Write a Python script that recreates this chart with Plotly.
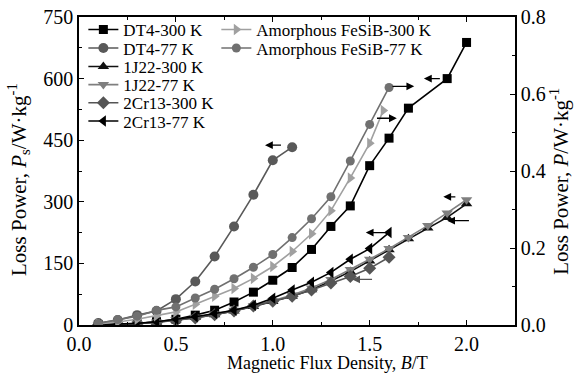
import plotly.graph_objects as go

# ---------------- data ----------------
B_full = [0.1, 0.2, 0.3, 0.4, 0.5, 0.6, 0.7, 0.8, 0.9, 1.0,
          1.1, 1.2, 1.3, 1.4, 1.5, 1.6, 1.7, 1.8, 1.9, 2.0]

B_dt4_300 = [0.1, 0.2, 0.3, 0.4, 0.5, 0.6, 0.7, 0.8, 0.9, 1.0,
             1.1, 1.2, 1.3, 1.4, 1.5, 1.6, 1.7, 1.9, 2.0]
P_dt4_300 = [0.4, 1.5, 3.5, 8, 14, 24, 36, 56, 80, 109,
             140, 184, 240, 290, 388, 455, 528, 600, 688]

B_dt4_77 = [0.1, 0.2, 0.3, 0.4, 0.5, 0.6, 0.7, 0.8, 0.9, 1.0, 1.1]
P_dt4_77 = [5, 12, 24, 34, 63, 106, 167, 240, 317, 401, 433]

P_1j22_300 = [0.4, 1.5, 3.5, 7, 12, 18, 25, 34, 45, 57,
              70, 86, 107, 130, 156, 183, 210, 236, 262, 295]
P_1j22_77 = [0.5, 1.6, 3.8, 7.5, 13, 19, 27, 36, 47, 59,
             73, 90, 111, 135, 160, 186, 213, 242, 273, 305]

B_2cr13 = [0.1, 0.2, 0.3, 0.4, 0.5, 0.6, 0.7, 0.8, 0.9, 1.0,
           1.1, 1.2, 1.3, 1.4, 1.5, 1.6]
P_2cr13_300 = [0.3, 1.2, 3, 6, 11, 17, 25, 34, 46, 58,
               70, 85, 102, 118, 138, 165]
P_2cr13_77 = [0.5, 2, 4, 8, 14, 20, 28, 36, 48, 65,
              85, 104, 128, 160, 186, 225]

B_fesib_300 = [0.1, 0.2, 0.3, 0.4, 0.5, 0.6, 0.7, 0.8, 0.9, 1.0,
               1.1, 1.2, 1.3, 1.4, 1.5, 1.57]
P_fesib_300 = [0.003, 0.008, 0.015, 0.024, 0.034, 0.054, 0.075, 0.095,
               0.121, 0.152, 0.191, 0.237, 0.297, 0.382, 0.472, 0.557]
B_fesib_77 = [0.1, 0.2, 0.3, 0.4, 0.5, 0.6, 0.7, 0.8, 0.9, 1.0,
              1.1, 1.2, 1.3, 1.4, 1.5, 1.6]
P_fesib_77 = [0.004, 0.014, 0.023, 0.038, 0.047, 0.07, 0.093, 0.12,
              0.15, 0.183, 0.227, 0.276, 0.333, 0.426, 0.521, 0.617]

y_left_ticks = [0, 150, 300, 450, 600, 750]
y_right_ticks = [0.0, 0.2, 0.4, 0.6, 0.8]
x_ticks = [0.0, 0.5, 1.0, 1.5, 2.0]

x_title = "Magnetic Flux Density, <i>B</i>/T"
yl_title = "Loss Power, <i>P</i><sub>s</sub>/W·kg<sup>-1</sup>"
yr_title = "Loss Power, <i>P</i>/W·kg<sup>-1</sup>"

FONT = "Liberation Serif, Times New Roman, serif"
LEG_FONT = dict(family=FONT, size=17, color="black")

fig = go.Figure()

# legend slots: (column x in paper units, row y in paper units)
col1_x, col2_x = 0.01, 0.315
row_y = [0.958, 0.898, 0.838, 0.779, 0.720, 0.661]
legend_layout = {}

def add(idx, name, x, y, color, symbol, lx, ly, yaxis="y", size=9):
    key = "legend" if idx == 1 else f"legend{idx}"
    fig.add_trace(go.Scatter(
        x=x, y=y, name=name, mode="lines+markers", yaxis=yaxis, legend=key,
        line=dict(color=color, width=1.6),
        marker=dict(color=color, symbol=symbol, size=size),
    ))
    legend_layout[key] = dict(x=lx, y=ly, xanchor="left", yanchor="middle",
                              bgcolor="rgba(0,0,0,0)", font=LEG_FONT,
                              itemwidth=30, borderwidth=0)

add(1, "DT4-300 K", B_dt4_300, P_dt4_300, "#000000", "square", col1_x, row_y[0], size=9)
add(2, "DT4-77 K", B_dt4_77, P_dt4_77, "#595959", "circle", col1_x, row_y[1], size=10)
add(3, "1J22-300 K", B_full, P_1j22_300, "#111111", "triangle-up", col1_x, row_y[2], size=10)
add(4, "1J22-77 K", B_full, P_1j22_77, "#7f7f7f", "triangle-down", col1_x, row_y[3], size=10)
add(5, "2Cr13-300 K", B_2cr13, P_2cr13_300, "#555555", "diamond", col1_x, row_y[4], size=10)
add(6, "2Cr13-77 K", B_2cr13, P_2cr13_77, "#000000", "triangle-left", col1_x, row_y[5], size=10)
add(7, "Amorphous FeSiB-300 K", B_fesib_300, P_fesib_300, "#a0a0a0", "triangle-right",
    col2_x, row_y[0], yaxis="y2", size=10)
add(8, "Amorphous FeSiB-77 K", B_fesib_77, P_fesib_77, "#707070", "circle",
    col2_x, row_y[1], yaxis="y2", size=9)

# arrows indicating which axis each curve belongs to (head, tail in data units)
arrows = [
    (1.78, 600, 1.87, 600, "y", "#000000"),
    (0.96, 438, 1.05, 438, "y", "#000000"),
    (1.73, 0.62, 1.61, 0.62, "y2", "#000000"),
    (1.64, 0.537, 1.53, 0.537, "y2", "#000000"),
    (1.48, 225, 1.59, 225, "y", "#000000"),
    (1.41, 111, 1.52, 111, "y", "#555555"),
    (1.88, 312, 1.95, 312, "y", "#000000"),
    (1.90, 254, 2.02, 254, "y", "#000000"),
]
for xh, yh, xt, yt, yr, c in arrows:
    fig.add_annotation(x=xh, y=yh, ax=xt, ay=yt, xref="x", yref=yr,
                       axref="x", ayref=yr, showarrow=True, arrowhead=2,
                       arrowsize=1.2, arrowwidth=1.3, arrowcolor=c, text="")

# axis titles
fig.add_annotation(text=x_title, xref="paper", yref="paper", x=0.569, y=-0.122,
                   xanchor="center", yanchor="middle", showarrow=False,
                   font=dict(family=FONT, size=18, color="black"))
fig.add_annotation(text=yl_title, xref="paper", yref="paper", x=-0.14, y=0.474,
                   xanchor="center", yanchor="middle", showarrow=False, textangle=-90,
                   font=dict(family=FONT, size=21, color="black"))
fig.add_annotation(text=yr_title, xref="paper", yref="paper", x=1.103, y=0.468,
                   xanchor="center", yanchor="middle", showarrow=False, textangle=-90,
                   font=dict(family=FONT, size=21, color="black"))

axis_common = dict(
    showline=True, linecolor="black", linewidth=1.5,
    ticks="inside", ticklen=5, tickwidth=1.2, tickcolor="black",
    showgrid=False, zeroline=False, automargin=False,
    tickfont=dict(family=FONT, size=20, color="black"),
)

fig.update_layout(
    width=578, height=387,
    margin=dict(l=79, r=63, t=15, b=62),
    plot_bgcolor="white", paper_bgcolor="white",
    font=dict(family=FONT, color="black"),
    xaxis=dict(range=[0, 2.25], tickvals=x_ticks, ticktext=[f"{v:.1f}" for v in x_ticks],
               mirror="ticks",
               minor=dict(dtick=0.25, tick0=0, ticks="inside", ticklen=3, tickcolor="black"),
               **axis_common),
    yaxis=dict(range=[0, 750], tickvals=y_left_ticks,
               minor=dict(dtick=75, tick0=0, ticks="inside", ticklen=3, tickcolor="black"),
               **axis_common),
    yaxis2=dict(range=[0, 0.8], tickvals=y_right_ticks,
                ticktext=[f"{v:.1f}" for v in y_right_ticks],
                overlaying="y", side="right",
                minor=dict(dtick=0.1, tick0=0, ticks="inside", ticklen=3, tickcolor="black"),
                **axis_common),
    showlegend=True,
    **legend_layout,
)

fig.write_html("out.html", config={"displayModeBar": False},
               post_script="document.body.style.margin='0';document.body.style.overflow='hidden';")
